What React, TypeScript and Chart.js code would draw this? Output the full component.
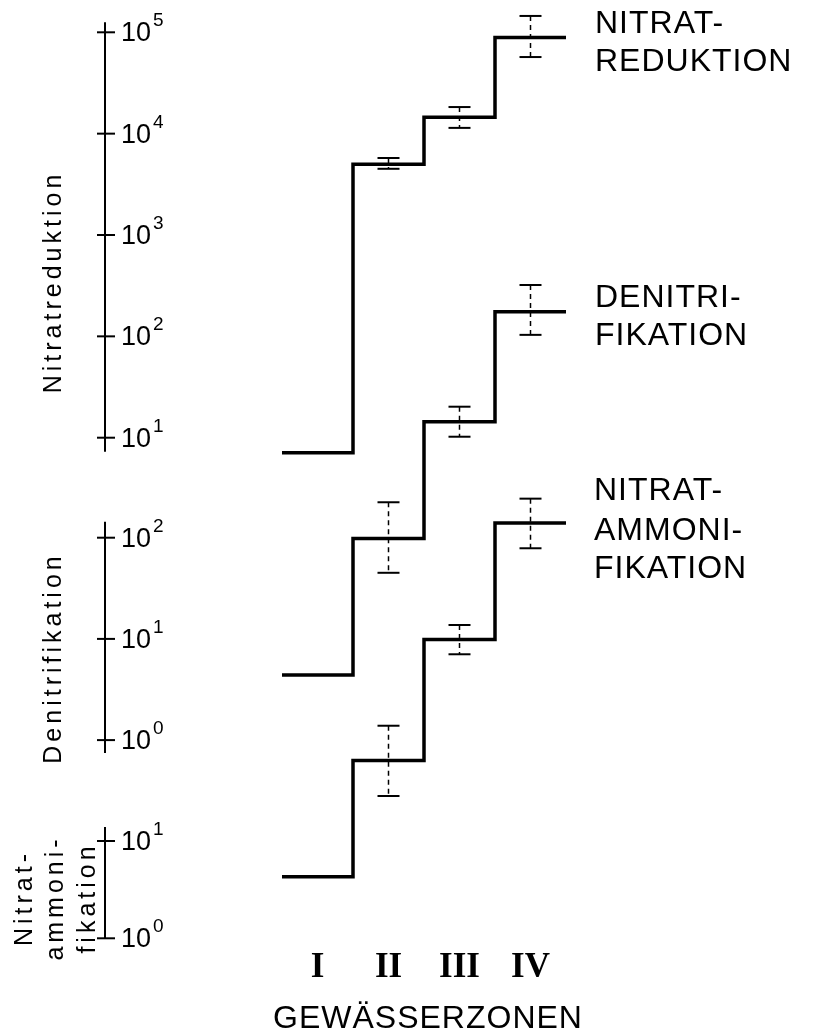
import React, { useEffect, useRef } from 'react';
import { Chart, registerables } from 'chart.js';

Chart.register(...registerables);

// ---- data ----
const zones = ['I', 'II', 'III', 'IV'];

const nitratreduktion = [7.1, 5000, 14500, 89000];
const nitratreduktionLow = [null, 4500, 11400, 57000];
const nitratreduktionHigh = [null, 5750, 18300, 145000];

const denitrifikation = [4.4, 98, 1400, 17100];
const denitrifikationLow = [null, 45, 995, 10100];
const denitrifikationHigh = [null, 224, 1970, 31400];

const ammonifikation = [4.3, 67, 1180, 18600];
const ammonifikationLow = [null, 29, 830, 10200];
const ammonifikationHigh = [null, 153, 1660, 33000];

const reduktionTicks = [1e1, 1e2, 1e3, 1e4, 1e5];
const denitrifikationTicks = [1e0, 1e1, 1e2];
const ammonifikationTicks = [1e0, 1e1];

// ---- layout ----
const W = 828;
const H = 1033;
const PAD = { left: 282, right: 262, top: 0, bottom: 0 };
const AXIS_X = 105;
const FONT = '"Liberation Sans", Arial, sans-serif';

// log range such that value v0 sits at pixel p0 with given px per decade
function logRange(v0: number, p0: number, perDecade: number) {
  const top = PAD.top;
  const bottom = H - PAD.bottom;
  const l0 = Math.log10(v0);
  return {
    min: Math.pow(10, l0 - (bottom - p0) / perDecade),
    max: Math.pow(10, l0 + (p0 - top) / perDecade),
  };
}

const rangeR = logRange(1e5, 32.3, 101.35);
const rangeD = logRange(1e2, 537.7, 101.2);
const rangeA = logRange(1e1, 841, 97.3);

function steps(values: number[]) {
  const pts = values.map((v, i) => ({ x: i, y: v }));
  pts.push({ x: values.length, y: values[values.length - 1] });
  return pts;
}

const series = [
  { axis: 'yR', low: nitratreduktionLow, high: nitratreduktionHigh },
  { axis: 'yD', low: denitrifikationLow, high: denitrifikationHigh },
  { axis: 'yA', low: ammonifikationLow, high: ammonifikationHigh },
];

const axesDef = [
  { axis: 'yR', ticks: reduktionTicks, extTop: 10, extBottom: 14, title: ['Nitratreduktion'], titleX: [61], titleY: 282 },
  { axis: 'yD', ticks: denitrifikationTicks, extTop: 16, extBottom: 13, title: ['Denitrifikation'], titleX: [61], titleY: 658 },
  { axis: 'yA', ticks: ammonifikationTicks, extTop: 14, extBottom: 0, title: ['Nitrat-', 'ammoni-', 'fikation'], titleX: [32, 63, 95], titleY: 898 },
];

const rightLabels = [
  { lines: ['NITRAT-', 'REDUKTION'], x: 595, ys: [33, 71] },
  { lines: ['DENITRI-', 'FIKATION'], x: 595, ys: [307, 345] },
  { lines: ['NITRAT-', 'AMMONI-', 'FIKATION'], x: 594, ys: [500, 540, 578] },
];

const decorPlugin = {
  id: 'decor',
  afterDatasetsDraw(chart: any) {
    const ctx: CanvasRenderingContext2D = chart.ctx;
    const xs = chart.scales.x;
    const line = (x1: number, y1: number, x2: number, y2: number) => {
      ctx.beginPath();
      ctx.moveTo(x1, y1);
      ctx.lineTo(x2, y2);
      ctx.stroke();
    };
    ctx.save();
    ctx.strokeStyle = '#000';
    ctx.fillStyle = '#000';
    ctx.lineCap = 'butt';

    // error bars
    series.forEach((s) => {
      const ys = chart.scales[s.axis];
      s.low.forEach((lo, i) => {
        const hi = s.high[i];
        if (lo == null || hi == null) return;
        const x = xs.getPixelForValue(i + 0.5);
        const yl = ys.getPixelForValue(lo);
        const yh = ys.getPixelForValue(hi);
        ctx.lineWidth = 1.5;
        ctx.setLineDash([5, 4]);
        line(x, yh, x, yl);
        ctx.setLineDash([]);
        ctx.lineWidth = 2;
        line(x - 11, yh, x + 11, yh);
        line(x - 11, yl, x + 11, yl);
      });
    });

    // left axes
    axesDef.forEach((a) => {
      const ys = chart.scales[a.axis];
      const pTop = ys.getPixelForValue(a.ticks[a.ticks.length - 1]) - a.extTop;
      const pBot = ys.getPixelForValue(a.ticks[0]) + a.extBottom;
      ctx.lineWidth = 2;
      line(AXIS_X, pTop, AXIS_X, pBot);
      a.ticks.forEach((t) => {
        const y = ys.getPixelForValue(t);
        line(AXIS_X - 8, y, AXIS_X + 10, y);
        ctx.textAlign = 'left';
        ctx.textBaseline = 'alphabetic';
        ctx.font = `27px ${FONT}`;
        ctx.fillText('10', 121, y + 9);
        const w = ctx.measureText('10').width;
        ctx.font = `19px ${FONT}`;
        const e = String(Math.round(Math.log10(t)));
        ctx.fillText(e, 121 + w + 2, y - 6);
      });
      // rotated title
      ctx.font = `25px ${FONT}`;
      (ctx as any).letterSpacing = '4px';
      ctx.textAlign = 'center';
      ctx.textBaseline = 'alphabetic';
      a.title.forEach((t, i) => {
        ctx.save();
        ctx.translate(a.titleX[i], a.titleY);
        ctx.rotate(-Math.PI / 2);
        ctx.fillText(t, 0, 0);
        ctx.restore();
      });
      (ctx as any).letterSpacing = '0px';
    });

    // right labels
    ctx.font = `32px ${FONT}`;
    (ctx as any).letterSpacing = '1px';
    ctx.textAlign = 'left';
    rightLabels.forEach((l) => {
      l.lines.forEach((t, i) => ctx.fillText(t, l.x, l.ys[i]));
    });

    // zone labels
    (ctx as any).letterSpacing = '0px';
    ctx.font = `bold 35px "Liberation Serif", "Times New Roman", serif`;
    ctx.textAlign = 'center';
    zones.forEach((z, i) => {
      ctx.fillText(z, xs.getPixelForValue(i + 0.5), 977);
    });

    // x title
    ctx.font = `32px ${FONT}`;
    (ctx as any).letterSpacing = '1px';
    ctx.fillText('GEWÄSSERZONEN', 428, 1028);
    (ctx as any).letterSpacing = '0px';
    ctx.restore();
  },
};

export default function App() {
  const ref = useRef<HTMLCanvasElement | null>(null);
  useEffect(() => {
    if (!ref.current) return;
    const common = {
      borderColor: '#000',
      borderWidth: 3.5,
      pointRadius: 0,
      stepped: 'before' as const,
      fill: false,
      clip: false as any,
      borderJoinStyle: 'miter' as const,
      borderCapStyle: 'butt' as const,
    };
    const chart = new Chart(ref.current, {
      type: 'line',
      data: {
        datasets: [
          { ...common, label: 'Nitratreduktion', data: steps(nitratreduktion), yAxisID: 'yR' },
          { ...common, label: 'Denitrifikation', data: steps(denitrifikation), yAxisID: 'yD' },
          { ...common, label: 'Nitratammonifikation', data: steps(ammonifikation), yAxisID: 'yA' },
        ],
      },
      options: {
        animation: false,
        responsive: false,
        devicePixelRatio: 1,
        layout: { padding: PAD },
        plugins: { legend: { display: false }, tooltip: { enabled: false } },
        events: [],
        scales: {
          x: { type: 'linear', min: 0, max: zones.length, display: false },
          yR: { type: 'logarithmic', min: rangeR.min, max: rangeR.max, display: false },
          yD: { type: 'logarithmic', min: rangeD.min, max: rangeD.max, display: false },
          yA: { type: 'logarithmic', min: rangeA.min, max: rangeA.max, display: false },
        },
      },
      plugins: [decorPlugin],
    });
    return () => chart.destroy();
  }, []);
  return (
    <div style={{ position: 'absolute', left: 0, top: 0, width: W, height: H, background: '#fff' }}>
      <canvas ref={ref} width={W} height={H} />
    </div>
  );
}
